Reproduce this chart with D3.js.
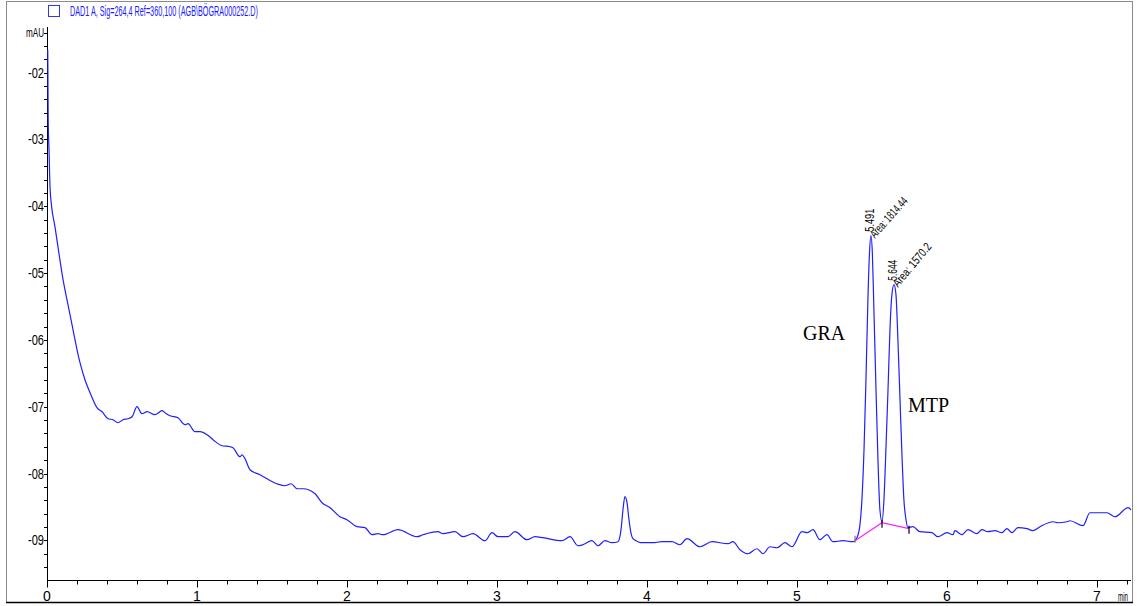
<!DOCTYPE html>
<html><head><meta charset="utf-8">
<script src="https://cdn.jsdelivr.net/npm/d3@7"></script>
<style>
html,body{margin:0;padding:0;background:#fff;}
svg{display:block;}
</style></head>
<body>
<svg id="chart" width="1137" height="606"></svg>
<script>
// ---- data ----
const legendText = "DAD1 A, Sig=264,4 Ref=360,100 (AGB\\BÖGRA000252.D)";
const yUnit = "mAU";
const xUnit = "min";
const xTicks = [0, 1, 2, 3, 4, 5, 6, 7];
const xTickLabels = ["0", "1", "2", "3", "4", "5", "6", "7"];
const yTicks = [-2, -3, -4, -5, -6, -7, -8, -9];
const yTickLabels = ["-02", "-03", "-04", "-05", "-06", "-07", "-08", "-09"];
const times = [0.005,0.006,0.008,0.014,0.020,0.031,0.053,0.073,0.107,0.133,0.160,0.220,0.253,0.287,0.333,0.367,0.407,0.440,0.473,0.507,0.540,0.567,0.600,0.633,0.667,0.720,0.767,0.787,0.820,0.873,0.920,0.940,0.987,1.020,1.067,1.107,1.167,1.220,1.240,1.287,1.300,1.320,1.353,1.420,1.533,1.587,1.627,1.667,1.707,1.787,1.833,1.887,1.953,2.000,2.067,2.120,2.167,2.207,2.240,2.340,2.467,2.507,2.607,2.640,2.720,2.773,2.840,2.920,2.967,3.007,3.073,3.120,3.200,3.253,3.307,3.433,3.487,3.540,3.573,3.633,3.673,3.720,3.767,3.807,3.827,3.840,3.853,3.867,3.880,3.893,3.907,3.973,4.040,4.100,4.167,4.220,4.267,4.353,4.433,4.540,4.573,4.620,4.673,4.733,4.773,4.820,4.867,4.920,4.967,5.033,5.067,5.107,5.153,5.200,5.240,5.307,5.373,5.400,5.420,5.433,5.447,5.460,5.473,5.483,5.493,5.503,5.513,5.527,5.540,5.553,5.567,5.580,5.593,5.607,5.620,5.633,5.647,5.660,5.673,5.687,5.700,5.713,5.727,5.740,5.773,5.820,5.900,5.940,6.000,6.040,6.053,6.100,6.140,6.200,6.233,6.273,6.320,6.367,6.400,6.433,6.473,6.533,6.573,6.620,6.707,6.740,6.800,6.820,6.907,6.953,7.067,7.120,7.207,7.227];
const signal = [-1.656,-2.000,-2.704,-3.198,-3.707,-4.006,-4.305,-4.605,-5.099,-5.398,-5.698,-6.341,-6.596,-6.790,-7.015,-7.075,-7.180,-7.195,-7.240,-7.195,-7.180,-7.150,-7.000,-7.105,-7.075,-7.120,-7.060,-7.090,-7.135,-7.165,-7.269,-7.254,-7.374,-7.374,-7.419,-7.494,-7.584,-7.599,-7.614,-7.749,-7.719,-7.778,-7.943,-8.018,-8.153,-8.183,-8.153,-8.228,-8.228,-8.302,-8.437,-8.512,-8.647,-8.692,-8.796,-8.811,-8.916,-8.901,-8.916,-8.841,-8.946,-8.916,-8.871,-8.901,-8.871,-8.946,-8.901,-9.006,-8.886,-8.946,-8.946,-8.871,-8.991,-8.946,-8.961,-9.006,-8.946,-9.081,-9.066,-9.006,-9.081,-9.006,-9.036,-9.021,-8.841,-8.542,-8.347,-8.437,-8.692,-8.886,-8.976,-9.036,-9.036,-9.021,-9.021,-9.066,-8.976,-9.096,-9.021,-9.051,-9.021,-9.141,-9.201,-9.126,-9.201,-9.096,-9.111,-9.036,-9.096,-8.871,-8.886,-8.841,-8.991,-8.916,-9.021,-9.006,-9.021,-8.961,-8.766,-8.392,-7.644,-6.596,-5.398,-4.725,-4.440,-4.725,-5.548,-6.746,-7.793,-8.542,-8.722,-8.392,-7.644,-6.746,-5.847,-5.323,-5.174,-5.323,-5.997,-6.895,-7.719,-8.392,-8.692,-8.811,-8.796,-8.871,-8.886,-8.946,-8.886,-8.916,-8.856,-8.916,-8.841,-8.901,-8.841,-8.871,-8.856,-8.886,-8.826,-8.886,-8.811,-8.826,-8.856,-8.796,-8.722,-8.737,-8.722,-8.707,-8.781,-8.587,-8.587,-8.647,-8.512,-8.542];
const baselineTimes = [5.387, 5.567, 5.747];
const baselineValues = [-9.006, -8.737, -8.826];
const peakTimes = [5.493, 5.647];
const peakApex = [-4.440, -5.174];
const peakRT = ["5.491", "5.644"];
const peakArea = ["Area: 1814.44", "Area: 1570.2"];
const compoundNames = ["GRA", "MTP"];
const compoundAnchor = [[5.04, -6.0], [5.74, -7.08]];

// ---- chart ----
const svg = d3.select("#chart");
const x = d3.scaleLinear().domain([0, 7.227]).range([47, 1131]);
const y = d3.scaleLinear().domain([-9.6, -1.4]).range([580.4, 32.6]);
const sans = "'Liberation Sans', Arial, sans-serif";

// outer frame
svg.append("rect").attr("x", 6.5).attr("y", 1.5).attr("width", 1126).attr("height", 601)
  .attr("fill", "none").attr("stroke", "#8a8a8a").attr("stroke-width", 1);
svg.append("line").attr("x1", 6).attr("x2", 1133).attr("y1", 602.5).attr("y2", 602.5)
  .attr("stroke", "#000").attr("stroke-width", 1.3);

// legend
svg.append("rect").attr("x", 48.5).attr("y", 5.5).attr("width", 11).attr("height", 11)
  .attr("fill", "none").attr("stroke", "#3333ff").attr("stroke-width", 1);
svg.append("text").attr("x", 70).attr("y", 16).attr("fill", "#1a1aff")
  .attr("font-family", sans).attr("font-size", 14)
  .attr("textLength", 188).attr("lengthAdjust", "spacingAndGlyphs")
  .text(legendText);

// y axis
const yMinor = d3.range(-9.4, -1.39, 0.2).map(v => +v.toFixed(1));
const gy = svg.append("g").attr("transform", "translate(47,0)");
gy.append("line").attr("x1", 0.5).attr("x2", 0.5).attr("y1", 27).attr("y2", y(-9.6))
  .attr("stroke", "#000");
gy.selectAll("line.minor").data(yMinor).join("line").attr("class", "minor")
  .attr("x1", -3).attr("x2", 0.5).attr("y1", d => Math.round(y(d)) + 0.5).attr("y2", d => Math.round(y(d)) + 0.5)
  .attr("stroke", "#000");
gy.selectAll("text.lab").data(yTicks).join("text").attr("class", "lab")
  .attr("x", -3).attr("y", d => y(d) + 5).attr("text-anchor", "end")
  .attr("font-family", sans).attr("font-size", 14)
  .attr("textLength", 16).attr("lengthAdjust", "spacingAndGlyphs")
  .text((d, i) => yTickLabels[i]);
gy.append("text").attr("x", -3).attr("y", y(-1.4) + 4).attr("text-anchor", "end")
  .attr("font-family", sans).attr("font-size", 13)
  .attr("textLength", 18).attr("lengthAdjust", "spacingAndGlyphs")
  .text(yUnit);

// x axis
const xMinor = d3.range(0.2, 7.23, 0.2).map(v => +v.toFixed(1)).filter(v => !xTicks.includes(v));
const axisY = Math.round(y(-9.6)) + 0.5;
const gx = svg.append("g").attr("transform", `translate(0,${axisY})`);
gx.append("line").attr("x1", 47).attr("x2", 1131).attr("y1", 0).attr("y2", 0).attr("stroke", "#000").attr("stroke-width", 1.2);
gx.selectAll("line.maj").data(xTicks).join("line").attr("class", "maj")
  .attr("x1", d => Math.round(x(d)) + 0.5).attr("x2", d => Math.round(x(d)) + 0.5)
  .attr("y1", 0).attr("y2", 7).attr("stroke", "#000");
gx.selectAll("line.min").data(xMinor).join("line").attr("class", "min")
  .attr("x1", d => Math.round(x(d)) + 0.5).attr("x2", d => Math.round(x(d)) + 0.5)
  .attr("y1", 0).attr("y2", 4).attr("stroke", "#000");
gx.selectAll("text.lab").data(xTicks).join("text").attr("class", "lab")
  .attr("x", d => x(d)).attr("y", 20).attr("text-anchor", "middle")
  .attr("font-family", sans).attr("font-size", 14)
  .text((d, i) => xTickLabels[i]);
gx.append("text").attr("x", 1118).attr("y", 20)
  .attr("font-family", sans).attr("font-size", 12)
  .attr("textLength", 10).attr("lengthAdjust", "spacingAndGlyphs")
  .text(xUnit);

// signal trace
const pts = times.map((t, i) => [t, signal[i]]);
const line = d3.line().x(d => x(d[0])).y(d => y(d[1])).curve(d3.curveMonotoneX);
svg.append("path").attr("d", line(pts)).attr("fill", "none")
  .attr("stroke", "#1f1fff").attr("stroke-width", 1.2);

// integration baseline
const bpts = baselineTimes.map((t, i) => [t, baselineValues[i]]);
svg.append("path").attr("d", d3.line().x(d => x(d[0])).y(d => y(d[1]))(bpts))
  .attr("fill", "none").attr("stroke", "#ff22ff").attr("stroke-width", 1.2);
svg.selectAll("line.drop").data(bpts).join("line").attr("class", "drop")
  .attr("x1", d => x(d[0])).attr("x2", d => x(d[0]))
  .attr("y1", (d, i) => y(d[1]) - (i === 0 ? 5 : 3)).attr("y2", (d, i) => y(d[1]) + (i === 0 ? 2 : 5))
  .attr("stroke", (d, i) => i === 0 ? "#777" : "#000").attr("stroke-width", 1.2);

// peak annotations
const rtLen = [23, 21], areaLen = [50, 53], areaRot = [-48, -50];
peakTimes.forEach((t, i) => {
  const px = x(t), py = y(peakApex[i]);
  svg.append("text").attr("transform", `translate(${px + 3},${py - 4}) rotate(-90)`)
    .attr("font-family", sans).attr("font-size", 12)
    .attr("textLength", rtLen[i]).attr("lengthAdjust", "spacingAndGlyphs")
    .text(peakRT[i]);
  svg.append("text").attr("transform", `translate(${px + 4},${py + 3}) rotate(${areaRot[i]})`)
    .attr("font-family", sans).attr("font-size", 12)
    .attr("textLength", areaLen[i]).attr("lengthAdjust", "spacingAndGlyphs")
    .text(peakArea[i]);
});

// compound names
compoundNames.forEach((n, i) => {
  svg.append("text").attr("x", x(compoundAnchor[i][0])).attr("y", y(compoundAnchor[i][1]))
    .attr("font-family", "'Liberation Serif', 'Times New Roman', serif").attr("font-size", 20)
    .text(n);
});
</script>
</body></html>
